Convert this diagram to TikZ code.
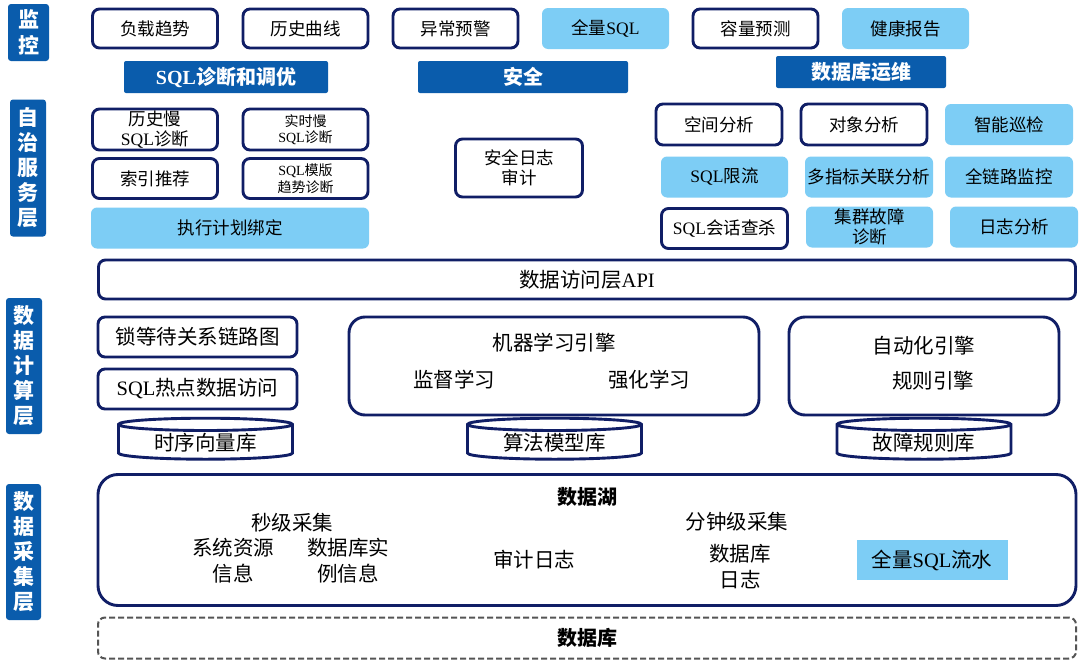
\documentclass[tikz,border=0pt]{standalone}
\usepackage{fontspec}
\setmainfont{Noto Sans CJK SC}
\newfontfamily\latfont{Liberation Serif}
\usetikzlibrary{shapes.geometric}
\definecolor{DBnavy}{RGB}{16, 30, 102}
\definecolor{DBblue}{RGB}{10, 92, 172}
\definecolor{DBlblue}{RGB}{125, 205, 245}
\definecolor{DBgrey}{RGB}{85, 85, 85}
\newcommand{\sqlw}{{\latfont SQL}}
\newcommand{\fsmall}{\fontsize{14}{16.5}\selectfont}
\newcommand{\fmid}{\fontsize{17.5}{21}\selectfont}
\newcommand{\ftight}{\fontsize{17.5}{20}\selectfont}
\newcommand{\fbig}{\fontsize{20.5}{26}\selectfont}
\newcommand{\fhead}{\fontsize{20}{24}\selectfont\bfseries}
\newcommand{\flayer}{\fontsize{21}{25}\selectfont\bfseries}

\begin{document}
\begin{tikzpicture}[x=1pt, y=-1pt,
	box/.style={draw=DBnavy, line width=2.9pt, rounded corners=7pt, fill=white, inner sep=0pt, align=center, font=\fmid},
	lbox/.style={fill=DBlblue, rounded corners=6pt, inner sep=0pt, align=center, font=\fmid},
	banner/.style={fill=DBblue, rounded corners=2pt, text=white, inner sep=0pt, font=\fhead},
	layer/.style={fill=DBblue, rounded corners=3pt, text=white, inner sep=0pt, align=center, font=\flayer},
	dbcyl/.style={cylinder, shape border rotate=90, aspect=0.12, draw=DBnavy, line width=2.9pt, fill=white, inner sep=0pt, font=\fbig},
	txt/.style={inner sep=0pt, align=center, font=\fbig},
	sz/.style 2 args={minimum width=#1pt, minimum height=#2pt}]

		\useasboundingbox[fill=white] (0,0) rectangle (1080,664);

		% layer labels
		\node[layer, sz={41}{57}, font=\fontsize{21}{26}\selectfont\bfseries] (lmon) at (28.5,32.5) {监\\控};
		\node[layer, sz={36}{137}] (lsvc) at (28,168) {自\\治\\服\\务\\层};
		\node[layer, sz={36}{136}] (lcmp) at (24,366) {数\\据\\计\\算\\层};
		\node[layer, sz={35}{136}] (lcol) at (23.5,552) {数\\据\\采\\集\\层};

		% Monitoring
		\node[box, sz={125}{39}] (load) at (155,28.5) {负载趋势};
		\node[box, sz={125}{39}] (hist) at (305.5,28.5) {历史曲线};
		\node[box, sz={125}{39}] (alarm) at (455.5,28.5) {异常预警};
		\node[lbox, sz={127}{41}] (fullsql) at (605.5,28.5) {全量\sqlw};
		\node[box, sz={125}{39}] (cap) at (755.5,28.5) {容量预测};
		\node[lbox, sz={127}{41}] (health) at (905.5,28.5) {健康报告};
		\node[banner, sz={204}{32}] (sqlopt) at (226,77) {{\latfont\bfseries SQL}诊断和调优};
		\node[banner, sz={210}{32}] (sec) at (523,77) {安全};
		\node[banner, sz={170}{32}] (ops) at (861,72) {数据库运维};

		% Autonomous services
		\node[box, sz={125}{41}, font=\ftight] (slowh) at (155,129.5) {历史慢\\\sqlw 诊断};
		\node[box, sz={125}{41}, font=\fsmall] (slowr) at (305.5,129.5) {实时慢\\\sqlw 诊断};
		\node[box, sz={125}{40}] (index) at (155,178.5) {索引推荐};
		\node[box, sz={125}{40}, font=\fsmall] (tmpl) at (305.5,178.5) {\sqlw 模版\\趋势诊断};
		\node[lbox, sz={278}{41}] (plan) at (230,228) {执行计划绑定};
		\node[box, sz={127}{58}, font=\ftight] (audit) at (519,168) {安全日志\\审计};
		\node[box, sz={126}{41}] (space) at (719,124.5) {空间分析};
		\node[box, sz={126}{41}] (object) at (864,124.5) {对象分析};
		\node[lbox, sz={128}{41}] (inspect) at (1009,124.5) {智能巡检};
		\node[lbox, sz={127}{41}] (limit) at (724.5,177) {\sqlw 限流};
		\node[lbox, sz={128}{41}] (multi) at (869,177) {多指标关联分析};
		\node[lbox, sz={128}{41}] (chain) at (1009,177) {全链路监控};
		\node[box, sz={126}{40}] (kill) at (724.5,228.5) {\sqlw 会话查杀};
		\node[lbox, sz={127}{41}, font=\ftight] (cluster) at (869.5,227) {集群故障\\诊断};
		\node[lbox, sz={128}{41}] (logana) at (1014,227) {日志分析};

		% Data computing
		\node[box, sz={977}{39}, font=\fbig] (api) at (587,279.5) {数据访问层{\latfont API}};
		\node[box, sz={199}{40}, font=\fbig] (lock) at (197.5,337) {锁等待关系链路图};
		\node[box, sz={199}{40}, font=\fbig] (hot) at (197.5,389) {\sqlw 热点数据访问};
		\node[box, sz={410}{98}, rounded corners=16pt] (ml) at (554,366) {};
		\node[txt] (mlt) at (554,343) {机器学习引擎};
		\node[txt] (sup) at (454,380) {监督学习};
		\node[txt] (rl) at (649,380) {强化学习};
		\node[box, sz={270}{98}, rounded corners=16pt] (auto) at (924,366) {};
		\node[txt] (autot) at (924,346) {自动化引擎};
		\node[txt] (rule) at (933,381) {规则引擎};
		\node[dbcyl, sz={174}{41}] (tsdb) at (205.5,442.5) {时序向量库};
		\node[dbcyl, sz={174}{41}] (modeldb) at (554.5,442.5) {算法模型库};
		\node[dbcyl, sz={174}{41}] (faultdb) at (924,442.5) {故障规则库};

		% Data collection
		\node[box, sz={978}{131}, rounded corners=20pt] (lake) at (587,540) {};
		\node[txt, font=\fhead] (laket) at (587,497) {数据湖};
		\node[txt] (sec1) at (292,523) {秒级采集};
		\node[txt] (sysres) at (233,561) {系统资源\\信息};
		\node[txt] (inst) at (348,561) {数据库实\\例信息};
		\node[txt] (auditlog) at (534,560) {审计日志};
		\node[txt] (min1) at (737,522) {分钟级采集};
		\node[txt] (dblog) at (740,567) {数据库\\日志};
		\node[fill=DBlblue, inner sep=0pt, sz={151}{40}, font=\fbig] (flow) at (932,560) {全量\sqlw 流水};
		\node[draw=DBgrey, dash pattern=on 6pt off 3pt, line width=2pt, rounded corners=7pt, sz={978}{41}, inner sep=0pt, font=\fhead] (db) at (587,638) {数据库};
	\end{tikzpicture}
\end{document}
